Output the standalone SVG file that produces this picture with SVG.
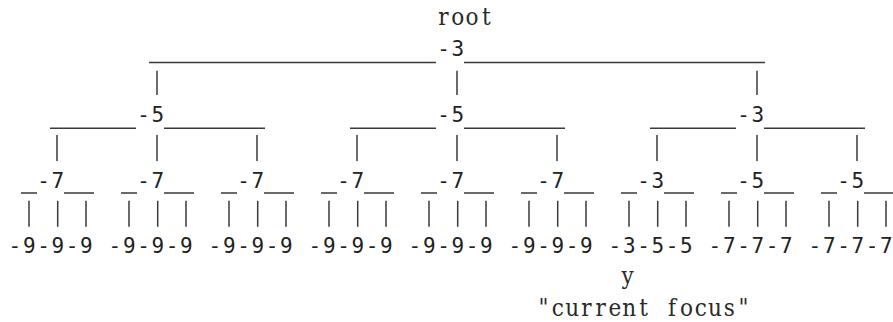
<svg xmlns="http://www.w3.org/2000/svg" width="893" height="322" viewBox="0 0 893 322">
<style>
.n{font-family:"DejaVu Sans Mono","Liberation Mono",monospace;font-size:21px;fill:#222}
.c{font-family:"DejaVu Serif Condensed","DejaVu Serif","Liberation Serif",serif;font-size:24px;fill:#2a2a2a;text-anchor:middle}
.h{stroke:#3a3a3a;stroke-width:1.4;fill:none}
.v{stroke:#3a3a3a;stroke-width:1.5;fill:none}
</style>
<rect width="893" height="322" fill="#fff"/>
<g id="connectors">
  <path class="h" d="M149 62.5H436M464 62.5H765"/>
  <path class="v" d="M157 70.7V95M457 70.7V95M757 70.7V95"/>
  <path class="h" d="M50 128.3H136M164 128.3H265M350 128.3H436M464 128.3H565M650 128.3H736M764 128.3H865"/>
  <path class="v" d="M57 135V161M157 135V161M257 135V161M357 135V161M457 135V161M557 135V161M657 135V161M757 135V161M857 135V161"/>
  <path class="h" d="M21 193H37M64 193H94M121 193H137M164 193H194M221 193H237M264 193H294M321 193H337M364 193H394M421 193H437M464 193H494M521 193H537M564 193H594M621 193H637M664 193H694M721 193H737M764 193H794M821 193H837M864 193H894"/>
  <path class="v" d="M29 200.7V226.7M57.7 200.7V226.7M86 200.7V226.7M129 200.7V226.7M157.7 200.7V226.7M186 200.7V226.7M229 200.7V226.7M257.7 200.7V226.7M286 200.7V226.7M329 200.7V226.7M357.7 200.7V226.7M386 200.7V226.7M429 200.7V226.7M457.7 200.7V226.7M486 200.7V226.7M529 200.7V226.7M557.7 200.7V226.7M586 200.7V226.7M629 200.7V226.7M657.7 200.7V226.7M686 200.7V226.7M729 200.7V226.7M757.7 200.7V226.7M786 200.7V226.7M829 200.7V226.7M857.7 200.7V226.7M886 200.7V226.7"/>
</g>
<g id="root-label"><text class="c" x="443.5 457.8 472.1 486.4" y="25">root</text></g>
<g id="n-root"><text class="n" x="437.2 451.5" y="56">-3</text></g>
<g id="n-a"><text class="n" x="137.2 151.5" y="122">-5</text></g>
<g id="n-b"><text class="n" x="437.2 451.5" y="122">-5</text></g>
<g id="n-c"><text class="n" x="737.2 751.5" y="122">-3</text></g>
<g id="n-a1"><text class="n" x="37.2 51.5" y="188">-7</text></g>
<g id="n-a2"><text class="n" x="137.2 151.5" y="188">-7</text></g>
<g id="n-a3"><text class="n" x="237.2 251.5" y="188">-7</text></g>
<g id="n-b1"><text class="n" x="337.2 351.5" y="188">-7</text></g>
<g id="n-b2"><text class="n" x="437.2 451.5" y="188">-7</text></g>
<g id="n-b3"><text class="n" x="537.2 551.5" y="188">-7</text></g>
<g id="n-c1"><text class="n" x="637.2 651.5" y="188">-3</text></g>
<g id="n-c2"><text class="n" x="737.2 751.5" y="188">-5</text></g>
<g id="n-c3"><text class="n" x="837.2 851.5" y="188">-5</text></g>
<g id="leaves-a1"><text class="n" x="8.6 22.9 37.2 51.5 65.7 80" y="252.7">-9-9-9</text></g>
<g id="leaves-a2"><text class="n" x="108.6 122.9 137.2 151.5 165.7 180" y="252.7">-9-9-9</text></g>
<g id="leaves-a3"><text class="n" x="208.6 222.9 237.2 251.5 265.7 280" y="252.7">-9-9-9</text></g>
<g id="leaves-b1"><text class="n" x="308.6 322.9 337.2 351.5 365.7 380" y="252.7">-9-9-9</text></g>
<g id="leaves-b2"><text class="n" x="408.6 422.9 437.2 451.5 465.7 480" y="252.7">-9-9-9</text></g>
<g id="leaves-b3"><text class="n" x="508.6 522.9 537.2 551.5 565.7 580" y="252.7">-9-9-9</text></g>
<g id="leaves-c1"><text class="n" x="608.6 622.9 637.2 651.5 665.7 680" y="252.7">-3-5-5</text></g>
<g id="leaves-c2"><text class="n" x="708.6 722.9 737.2 751.5 765.7 780" y="252.7">-7-7-7</text></g>
<g id="leaves-c3"><text class="n" x="808.6 822.9 837.2 851.5 865.7 880" y="252.7">-7-7-7</text></g>
<g id="focus-label">
  <text class="c" x="627.5" y="284">y</text>
  <text class="c" x="543.5 557.8 572.1 586.4 600.7 615 629.2 643.5 657.8 672.1 686.4 700.7 715 729.2 743.5" y="316">"current focus"</text>
</g>
</svg>
